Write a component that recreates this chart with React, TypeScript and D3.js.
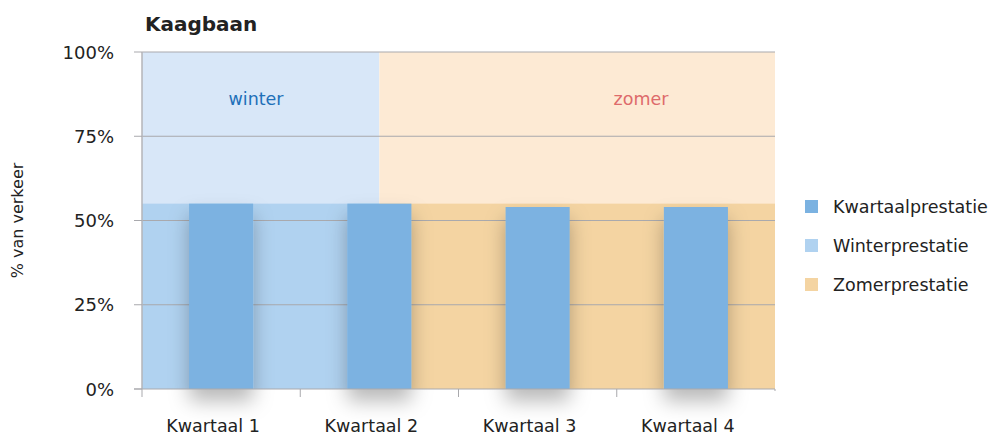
import * as d3 from 'd3';

const quarters = ['Kwartaal 1', 'Kwartaal 2', 'Kwartaal 3', 'Kwartaal 4'];
const quarterValues = [55, 55, 54, 54];
const seasons = ['winter', 'zomer'];
const seasonSpans = [[0, 1.5], [1.5, 4]];
const seasonValues = [55, 55];
const yTicks = [0, 25, 50, 75, 100];
const legendLabels = ['Kwartaalprestatie', 'Winterprestatie', 'Zomerprestatie'];

const W = 992;
const H = 437;
const FONT = '"DejaVu Sans", sans-serif';

const barColor = '#7bb2e1';
const seasonBg = ['#d8e7f8', '#fdead4'];
const seasonFill = ['#b0d2f0', '#f4d4a2'];
const seasonText = ['#2170b8', '#de6b6b'];
const legendColors = [barColor, seasonFill[0], seasonFill[1]];

export default function App() {
  const left = 142;
  const right = 775;
  const top = 52;
  const bottom = 389;

  const x = d3.scaleLinear().domain([0, quarters.length]).range([left, right]);
  const y = d3.scaleLinear().domain([0, 100]).range([bottom, top]);
  const band = x(1) - x(0);
  const barW = band * 0.405;

  return (
    <svg width={W} height={H} style={{ position: 'absolute', left: 0, top: 0 }} fontFamily={FONT}>
      <defs>
        <filter id="shadow" x="-50%" y="-20%" width="200%" height="150%">
          <feDropShadow dx="0" dy="12" stdDeviation="10" floodColor="#000" floodOpacity="0.28" />
        </filter>
      </defs>

      <text x={145} y={31} fontSize={20} fontWeight="bold" fill="#222">Kaagbaan</text>

      {/* season backgrounds */}
      {seasons.map((s, i) => (
        <rect key={s} x={x(seasonSpans[i][0])} y={top} width={x(seasonSpans[i][1]) - x(seasonSpans[i][0])}
          height={bottom - top} fill={seasonBg[i]} />
      ))}
      {/* season performance areas */}
      {seasons.map((s, i) => (
        <rect key={s + 'a'} x={x(seasonSpans[i][0])} y={y(seasonValues[i])}
          width={x(seasonSpans[i][1]) - x(seasonSpans[i][0])}
          height={bottom - y(seasonValues[i])} fill={seasonFill[i]} />
      ))}

      {/* grid */}
      {yTicks.filter((t) => t > 0).map((t) => (
        <line key={t} x1={left} x2={right} y1={y(t)} y2={y(t)} stroke="#a9a9ad" strokeWidth={1.2} />
      ))}

      {seasons.map((s, i) => (
        <text key={s + 't'} x={i === 0 ? 256 : 641} y={105} fontSize={17.5} textAnchor="middle" fill={seasonText[i]}>{s}</text>
      ))}

      {/* bars */}
      {quarters.map((q, i) => (
        <rect key={q} x={x(i + 0.5) - barW / 2} y={y(quarterValues[i])} width={barW}
          height={bottom - y(quarterValues[i])} fill={barColor} filter="url(#shadow)" />
      ))}

      {/* axes */}
      <line x1={left} x2={left} y1={top} y2={bottom} stroke="#b4b4b8" strokeWidth={1.5} />
      <line x1={left - 8} x2={right} y1={bottom} y2={bottom} stroke="#a9a9ad" strokeWidth={1.2} />
      {yTicks.map((t) => (
        <g key={t}>
          <line x1={left - 8} x2={left} y1={y(t)} y2={y(t)} stroke="#a9a9ad" />
          <text x={114} y={y(t) + 6.5} fontSize={18} textAnchor="end" fill="#222">{t}%</text>
        </g>
      ))}
      {d3.range(quarters.length + 1).map((i) => (
        <line key={i} x1={x(i)} x2={x(i)} y1={bottom} y2={bottom + (i === quarters.length ? 2 : 8)} stroke="#a9a9ad" />
      ))}
      {quarters.map((q, i) => (
        <text key={q} x={x(i + 0.5) - 8} y={432} fontSize={17.5} textAnchor="middle" fill="#222">{q}</text>
      ))}
      <text transform={`translate(23,${(top + bottom) / 2}) rotate(-90)`} fontSize={16} textAnchor="middle" fill="#222">% van verkeer</text>

      {/* legend */}
      {legendLabels.map((l, i) => (
        <g key={l} transform={`translate(805,${207 + i * 39})`}>
          <rect x={0} y={-7} width={13} height={13} fill={legendColors[i]} />
          <text x={28} y={6} fontSize={17.5} fill="#222">{l}</text>
        </g>
      ))}
    </svg>
  );
}
